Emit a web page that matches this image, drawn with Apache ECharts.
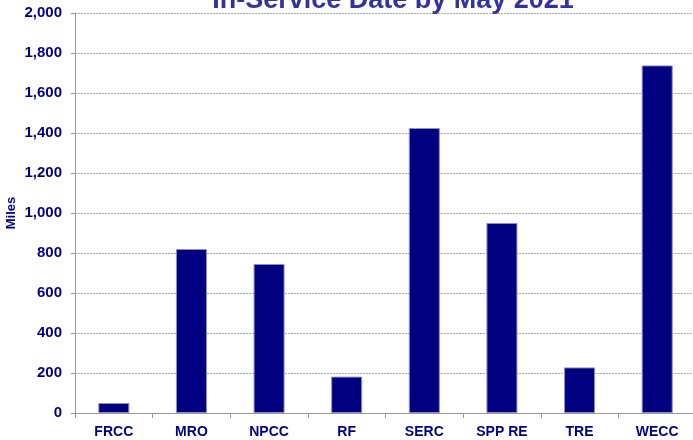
<!DOCTYPE html>
<html>
<head>
<meta charset="utf-8">
<script src="https://cdn.jsdelivr.net/npm/echarts@6/dist/echarts.min.js"></script>
<style>html,body{margin:0;padding:0;background:#fff}#c{width:693px;height:440px}</style>
</head>
<body>
<div id="c"></div>
<script>
var categories = ["FRCC", "MRO", "NPCC", "RF", "SERC", "SPP RE", "TRE", "WECC"];
var miles = [50, 820, 745, 182, 1425, 950, 228, 1738];
var yTicks = [0, 200, 400, 600, 800, 1000, 1200, 1400, 1600, 1800, 2000];
var titleText = "In-Service Date by May 2021";
var yName = "Miles";

var chart = echarts.init(document.getElementById('c'), null, {renderer: 'canvas'});
var fontFam = '"Liberation Sans", Arial, sans-serif';
chart.setOption({
  animation: false,
  backgroundColor: '#ffffff',
  title: {
    text: titleText,
    left: 388, textAlign: 'center',
    top: -18,
    textStyle: {fontFamily: fontFam, fontWeight: 'bold', fontSize: 27, color: '#333399'}
  },
  grid: {left: 75, right: -3, top: 13, bottom: 27, containLabel: false, outerBoundsMode: 'none'},
  xAxis: {
    type: 'category',
    data: categories,
    axisLine: {show: true, lineStyle: {color: '#999999', width: 1}},
    axisTick: {show: true, alignWithLabel: false, length: 5, lineStyle: {color: '#999999'}},
    axisLabel: {fontFamily: fontFam, fontWeight: 'bold', fontSize: 14, color: '#000080', margin: 12},
    splitLine: {show: false}
  },
  yAxis: {
    type: 'value',
    min: yTicks[0], max: yTicks[yTicks.length - 1], interval: 200,
    name: yName, nameLocation: 'middle', nameGap: 57, nameRotate: 90,
    nameMoveOverlap: false,
    nameTextStyle: {fontFamily: fontFam, fontWeight: 'bold', fontSize: 13, color: '#000080'},
    axisLine: {show: true, lineStyle: {color: '#999999', width: 1}},
    axisTick: {show: true, length: 4, lineStyle: {color: '#999999'}},
    axisLabel: {
      fontFamily: fontFam, fontWeight: 'bold', fontSize: 15, color: '#000080', margin: 13,
      formatter: function (v) { return String(v).replace(/\B(?=(\d{3})+(?!\d))/g, ','); }
    },
    splitLine: {show: true, lineStyle: {color: '#aaaaaa', type: [2, 1], width: 1}}
  },
  series: [{
    type: 'bar',
    data: miles,
    barWidth: 31,
    itemStyle: {color: '#000080', borderColor: '#8c8cc8', borderWidth: 1}
  }]
});
</script>
</body>
</html>
